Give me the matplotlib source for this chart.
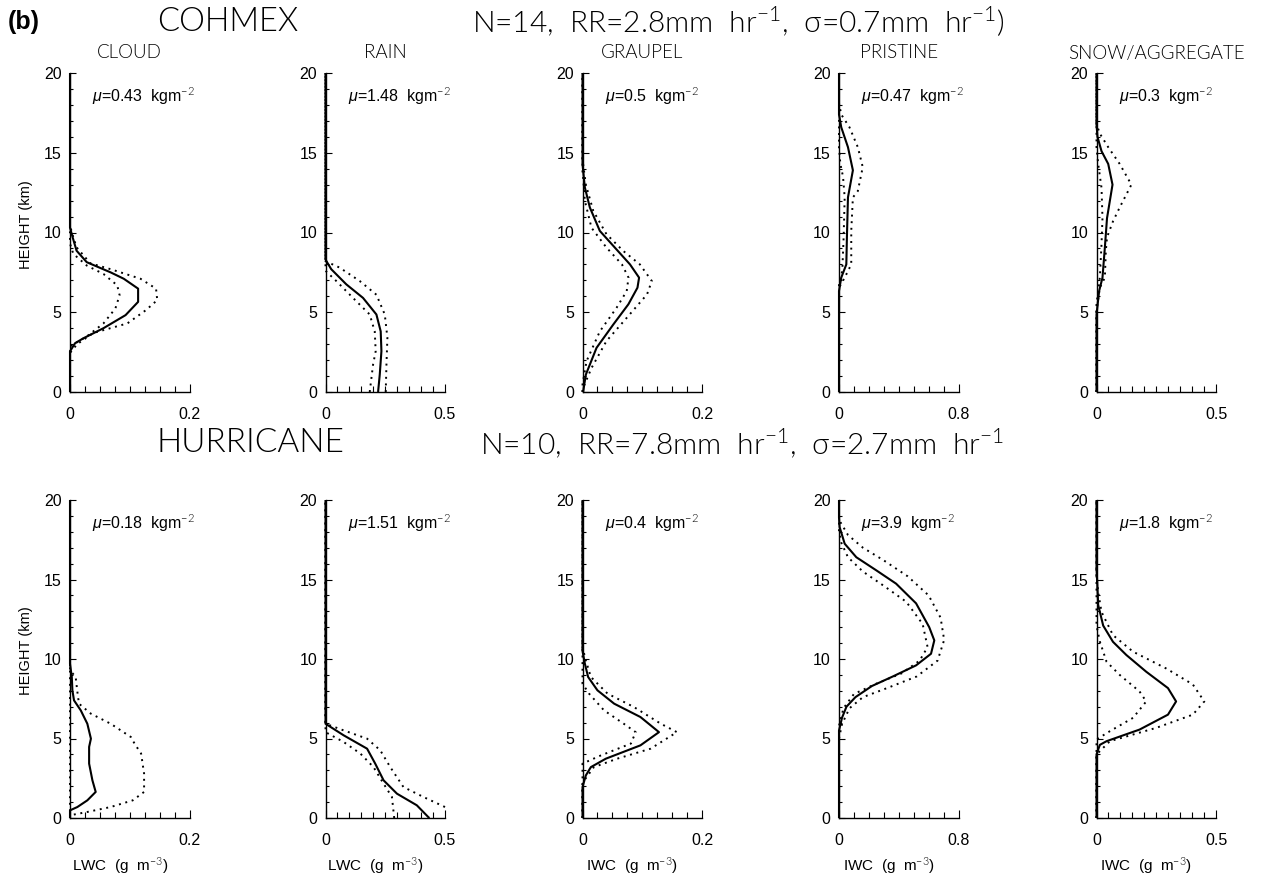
import matplotlib
matplotlib.use("Agg")
import matplotlib.pyplot as plt
from matplotlib.ticker import MultipleLocator

plt.rcParams['font.family'] = ['Liberation Sans', 'DejaVu Sans']
plt.rcParams['mathtext.fontset'] = 'custom'
plt.rcParams['mathtext.rm'] = 'Lato:weight=300'
plt.rcParams['mathtext.it'] = 'Liberation Sans:italic'
plt.rcParams['mathtext.bf'] = 'Liberation Sans:bold'

# ---------------------------------------------------------------
# Composite hydrometeor profiles: (height km, content g m^-3)
# mean profile plus the +/- one standard deviation envelope
# ---------------------------------------------------------------

# COHMEX (N=14)
cohmex_cloud_mean = [(0, 0), (2.55, 0), (3.06, 0.0085), (3.37, 0.0225), (4.0, 0.056), (4.82, 0.093),
                     (5.65, 0.114), (6.48, 0.114), (7.1, 0.09), (7.5, 0.068), (8.14, 0.028),
                     (8.86, 0.011), (9.69, 0.0045), (10.3, 0), (20, 0)]
cohmex_cloud_hi = [(0, 0), (2.45, 0), (3.0, 0.012), (3.7, 0.039), (4.3, 0.096), (5.13, 0.127),
                   (5.76, 0.146), (6.48, 0.144), (7.1, 0.118), (7.7, 0.068), (8.07, 0.034),
                   (9.07, 0.011), (10.0, 0.003), (10.5, 0), (20, 0)]
cohmex_cloud_lo = [(0, 0), (2.86, 0), (3.48, 0.028), (4.3, 0.056), (5.24, 0.076), (6.07, 0.083),
                   (6.69, 0.079), (7.4, 0.056), (7.93, 0.028), (8.66, 0.0056), (9.3, 0), (20, 0)]

cohmex_rain_mean = [(0, 0.22), (1.09, 0.227), (2.56, 0.234), (3.8, 0.231), (4.86, 0.213), (5.9, 0.157),
                    (6.75, 0.087), (7.7, 0.024), (8.3, 0), (20, 0)]
cohmex_rain_hi = [(0, 0.252), (1.72, 0.255), (3.4, 0.259), (4.86, 0.248), (6.1, 0.213), (6.96, 0.143),
                  (7.8, 0.059), (8.2, 0), (20, 0)]
cohmex_rain_lo = [(0, 0.185), (1.72, 0.199), (2.56, 0.21), (3.8, 0.206), (4.86, 0.185), (5.9, 0.115),
                  (6.96, 0.045), (7.6, 0), (20, 0)]

cohmex_graupel_mean = [(0, 0.001), (1.09, 0.0056), (2.77, 0.0235), (4.23, 0.0515), (5.5, 0.0768),
                       (6.54, 0.092), (7.17, 0.0947), (8.0, 0.0795), (9.06, 0.054), (10.1, 0.029),
                       (11.57, 0.0123), (12.83, 0.0039), (13.9, 0.001), (14.3, 0), (20, 0)]
cohmex_graupel_hi = [(0, 0), (0.25, 0.001), (1.5, 0.015), (3.19, 0.04), (4.65, 0.074), (6.12, 0.108),
                     (6.96, 0.116), (8.0, 0.096), (8.85, 0.068), (9.9, 0.04), (11.36, 0.018),
                     (13.0, 0.0056), (14.3, 0.001), (14.6, 0), (20, 0)]
cohmex_graupel_lo = [(0, 0), (0.46, 0), (1.93, 0.0067), (3.8, 0.029), (5.28, 0.057), (6.33, 0.074),
                     (7.17, 0.077), (8.0, 0.066), (9.06, 0.04), (10.3, 0.015), (12.0, 0.0039),
                     (13.5, 0.001), (13.8, 0), (20, 0)]

cohmex_pristine_mean = [(0, 0), (6.33, 0), (7.17, 0.015), (8.0, 0.049), (9.7, 0.053), (12.2, 0.06),
                        (13.9, 0.093), (15.35, 0.06), (16.6, 0.015), (17.4, 0), (20, 0)]
cohmex_pristine_hi = [(0, 0), (6.54, 0), (7.17, 0.038), (8.0, 0.082), (10.1, 0.082), (12.2, 0.093),
                      (12.6, 0.126), (14.1, 0.159), (15.35, 0.126), (16.6, 0.07), (17.4, 0.015),
                      (18.1, 0), (20, 0)]
cohmex_pristine_lo = [(0, 0), (6.75, 0), (7.6, 0.022), (9.7, 0.031), (12.2, 0.038), (13.5, 0.027),
                      (14.3, 0.009), (15.35, 0), (20, 0)]

cohmex_snow_mean = [(0, 0), (4.86, 0), (6.33, 0.011), (7.17, 0.025), (9.06, 0.035), (10.9, 0.044),
                    (13.0, 0.067), (14.3, 0.049), (15.1, 0.021), (16.0, 0.004), (16.8, 0), (20, 0)]
cohmex_snow_hi = [(0, 0), (5.07, 0), (6.54, 0.014), (7.17, 0.035), (8.85, 0.039), (9.7, 0.044),
                  (10.7, 0.069), (11.57, 0.097), (13.0, 0.146), (14.3, 0.097), (15.35, 0.049),
                  (16.2, 0.014), (16.8, 0), (20, 0)]
cohmex_snow_lo = [(0, 0), (5.5, 0), (7.17, 0.014), (9.27, 0.021), (10.9, 0.025), (12.8, 0.021),
                  (14.3, 0.007), (15.35, 0), (20, 0)]

# Hurricane (N=10)
hurr_cloud_mean = [(0, 0), (0.48, 0), (0.69, 0.0123), (1.11, 0.029), (1.64, 0.043), (2.37, 0.0375),
                   (3.42, 0.032), (4.47, 0.032), (4.99, 0.035), (5.93, 0.029), (6.77, 0.018),
                   (7.4, 0.0067), (8.03, 0.004), (8.87, 0.003), (9.7, 0), (20, 0)]
hurr_cloud_hi = [(0, 0), (0.17, 0), (0.38, 0.029), (0.69, 0.068), (1.11, 0.105), (1.64, 0.124),
                 (2.79, 0.124), (4.05, 0.119), (4.68, 0.108), (5.09, 0.102), (5.93, 0.068),
                 (6.56, 0.035), (7.19, 0.015), (8.03, 0.012), (8.87, 0.0095), (9.29, 0), (20, 0)]
hurr_cloud_lo = [(0, 0), (20, 0)]

hurr_rain_mean = [(0, 0.435), (0.06, 0.43), (0.8, 0.382), (1.53, 0.299), (2.37, 0.243), (3.42, 0.208),
                  (4.36, 0.174), (5.2, 0.076), (5.93, 0), (20, 0)]
hurr_rain_hi = [(0.69, 0.5), (1.32, 0.41), (1.95, 0.326), (3.2, 0.271), (4.26, 0.229), (4.99, 0.174),
                (5.51, 0.076), (5.93, 0), (20, 0)]
hurr_rain_lo = [(0, 0.2875), (1.32, 0.278), (2.16, 0.243), (3.2, 0.201), (4.05, 0.146), (4.78, 0.076),
                (5.4, 0), (20, 0)]

hurr_graupel_mean = [(0, 0), (1.95, 0), (2.68, 0.0056), (3.2, 0.014), (3.73, 0.039), (4.57, 0.097),
                     (5.4, 0.128), (6.35, 0.097), (7.19, 0.053), (8.03, 0.025), (8.87, 0.0094),
                     (9.7, 0.004), (10.5, 0), (20, 0)]
hurr_graupel_hi = [(0, 0), (2.1, 0), (2.37, 0.003), (3.2, 0.019), (3.73, 0.058), (4.36, 0.114),
                   (5.4, 0.158), (5.93, 0.131), (6.98, 0.086), (7.82, 0.042), (8.87, 0.014),
                   (9.9, 0.0056), (10.75, 0), (20, 0)]
hurr_graupel_lo = [(0, 0), (3.42, 0), (3.94, 0.031), (4.68, 0.081), (5.4, 0.089), (5.93, 0.069),
                   (6.77, 0.036), (7.82, 0.011), (8.45, 0), (20, 0)]

hurr_pristine_mean = [(0, 0), (5.5, 0), (6.3, 0.02), (7.0, 0.05), (7.6, 0.11), (8.3, 0.22),
                      (8.9, 0.36), (9.6, 0.516), (10.33, 0.616), (11.17, 0.638), (12.0, 0.604),
                      (13.5, 0.516), (14.74, 0.382), (15.58, 0.249), (16.4, 0.116), (17.25, 0.038),
                      (18.3, 0.004), (18.9, 0), (20, 0)]
hurr_pristine_hi = [(0, 0), (5.0, 0), (5.9, 0.02), (6.9, 0.07), (7.6, 0.16), (8.2, 0.33), (8.9, 0.52),
                    (9.9, 0.66), (11.2, 0.704), (12.6, 0.68), (14.0, 0.6), (15.2, 0.46), (16.2, 0.3),
                    (17.0, 0.16), (17.8, 0.06), (18.6, 0.01), (19.0, 0), (20, 0)]
hurr_pristine_lo = [(0, 0), (5.8, 0), (6.9, 0.03), (7.8, 0.1), (8.45, 0.25), (9.1, 0.42), (9.9, 0.54),
                    (10.75, 0.593), (12.2, 0.56), (13.6, 0.45), (14.6, 0.3), (15.5, 0.16),
                    (16.4, 0.06), (17.3, 0.016), (18.0, 0), (20, 0)]

hurr_snow_mean = [(0, 0), (4.0, 0), (4.6, 0.014), (4.83, 0.042), (5.56, 0.18), (6.5, 0.299),
                  (7.33, 0.333), (8.17, 0.299), (9.2, 0.208), (10.25, 0.125), (11.08, 0.069),
                  (12.1, 0.028), (13.4, 0.007), (14.8, 0.003), (15.7, 0), (20, 0)]
hurr_snow_hi = [(0, 0), (3.9, 0), (4.1, 0.007), (4.83, 0.056), (5.67, 0.25), (6.5, 0.403),
                (7.33, 0.451), (8.4, 0.403), (9.4, 0.292), (10.46, 0.153), (11.5, 0.069),
                (12.96, 0.021), (14.2, 0.007), (15.2, 0), (20, 0)]
hurr_snow_lo = [(0, 0), (4.94, 0), (5.46, 0.056), (6.3, 0.153), (7.33, 0.208), (7.96, 0.18),
                (9.0, 0.097), (9.83, 0.042), (11.1, 0.014), (12.1, 0), (20, 0)]

species = ["CLOUD", "RAIN", "GRAUPEL", "PRISTINE", "SNOW/AGGREGATE"]
x_max = [0.2, 0.5, 0.2, 0.8, 0.5]
x_minor = [0.025, 0.05, 0.025, 0.1, 0.05]
x_max_labels = ["0.2", "0.5", "0.2", "0.8", "0.5"]
x_titles = ["LWC  (g  m$^{-3}$)", "LWC  (g  m$^{-3}$)", "IWC  (g  m$^{-3}$)",
            "IWC  (g  m$^{-3}$)", "IWC  (g  m$^{-3}$)"]
cohmex_mu = ["0.43", "1.48", "0.5", "0.47", "0.3"]
hurr_mu = ["0.18", "1.51", "0.4", "3.9", "1.8"]
height_ticks = [0, 5, 10, 15, 20]

cohmex_profiles = [
    (cohmex_cloud_mean, cohmex_cloud_lo, cohmex_cloud_hi),
    (cohmex_rain_mean, cohmex_rain_lo, cohmex_rain_hi),
    (cohmex_graupel_mean, cohmex_graupel_lo, cohmex_graupel_hi),
    (cohmex_pristine_mean, cohmex_pristine_lo, cohmex_pristine_hi),
    (cohmex_snow_mean, cohmex_snow_lo, cohmex_snow_hi),
]
hurr_profiles = [
    (hurr_cloud_mean, hurr_cloud_lo, hurr_cloud_hi),
    (hurr_rain_mean, hurr_rain_lo, hurr_rain_hi),
    (hurr_graupel_mean, hurr_graupel_lo, hurr_graupel_hi),
    (hurr_pristine_mean, hurr_pristine_lo, hurr_pristine_hi),
    (hurr_snow_mean, hurr_snow_lo, hurr_snow_hi),
]

# ---------------------------------------------------------------
W, H = 1264, 877
fig = plt.figure(figsize=(W / 100, H / 100), dpi=100)

THIN = ['Lato', 'Liberation Sans', 'DejaVu Sans']
THIN_W = 300
PLAIN = ['Liberation Sans', 'DejaVu Sans']


def fx(px):
    return px / W


def fy(py):
    return 1 - py / H


col_left = [70, 325.5, 582.5, 839, 1096.5]
col_w = 119.5
rows = [(73, 392), (500, 818)]  # (top px, bottom px)


def draw_curve(ax, pts, **kw):
    z = [p[0] for p in pts]
    v = [p[1] for p in pts]
    ax.plot(v, z, color='black', clip_on=False, solid_capstyle='butt', **kw)


for r, (top, bot) in enumerate(rows):
    profiles = cohmex_profiles if r == 0 else hurr_profiles
    mus = cohmex_mu if r == 0 else hurr_mu
    for c in range(5):
        ax = fig.add_axes([fx(col_left[c]), fy(bot), col_w / W, (bot - top) / H])
        mean, lo, hi = profiles[c]
        draw_curve(ax, lo, lw=1.4, linestyle=(0, (1, 2.4)))
        draw_curve(ax, hi, lw=1.4, linestyle=(0, (1, 2.4)))
        draw_curve(ax, mean, lw=1.5)

        ax.set_xlim(0, x_max[c])
        ax.set_ylim(0, 20)
        for s in ['top', 'right']:
            ax.spines[s].set_visible(False)
        for s in ['left', 'bottom']:
            ax.spines[s].set_linewidth(1.0)
        ax.set_xticks([0, x_max[c]])
        ax.set_xticklabels(['0', x_max_labels[c]])
        ax.xaxis.set_minor_locator(MultipleLocator(x_minor[c]))
        ax.set_yticks(height_ticks)
        ax.yaxis.set_minor_locator(MultipleLocator(1))
        ax.tick_params(which='both', direction='in', top=False, right=False, width=0.8)
        ax.tick_params(axis='x', which='major', length=6, pad=11, labelsize=11.5)
        ax.tick_params(axis='x', which='minor', length=4)
        ax.tick_params(axis='y', which='major', length=4, pad=6, labelsize=11.5)
        ax.tick_params(axis='y', which='minor', length=2)
        ax.patch.set_alpha(0)

        ax.text(0.185, 1 - 23 / (bot - top), r"$\mu$=" + mus[c] + r"  kgm$^{-2}$",
                transform=ax.transAxes, ha='left', va='center', fontsize=11.5, family=PLAIN)

        xc = col_left[c] + col_w / 2
        if r == 0:
            fig.text(fx(xc), fy(53), species[c], ha='center', va='center',
                     fontsize=13.5, family=THIN, fontweight=THIN_W)
        else:
            fig.text(fx(xc - 10), fy(866), x_titles[c], ha='center', va='center',
                     fontsize=11, family=PLAIN)
        if c == 0:
            fig.text(fx(26), fy((top + bot) / 2 - 8), "HEIGHT (km)", rotation=90,
                     ha='center', va='center', fontsize=10.5, family=PLAIN)

fig.text(fx(8), fy(22), "(b)", ha='left', va='center', fontsize=18,
         fontweight='bold', family=PLAIN)
fig.text(fx(157), fy(22), "COHMEX", ha='left', va='center', fontsize=23.5,
         family=THIN, fontweight=THIN_W)
fig.text(fx(472), fy(22), "N=14,  RR=2.8mm  hr$^{-1}$,  \u03c3=0.7mm  hr$^{-1}$)",
         ha='left', va='center', fontsize=21.5, family=THIN, fontweight=THIN_W)
fig.text(fx(157), fy(443), "HURRICANE", ha='left', va='center', fontsize=24,
         family=THIN, fontweight=THIN_W)
fig.text(fx(480), fy(443), "N=10,  RR=7.8mm  hr$^{-1}$,  \u03c3=2.7mm  hr$^{-1}$",
         ha='left', va='center', fontsize=21.5, family=THIN, fontweight=THIN_W)

fig.savefig("out.png", dpi=100, facecolor='white')
